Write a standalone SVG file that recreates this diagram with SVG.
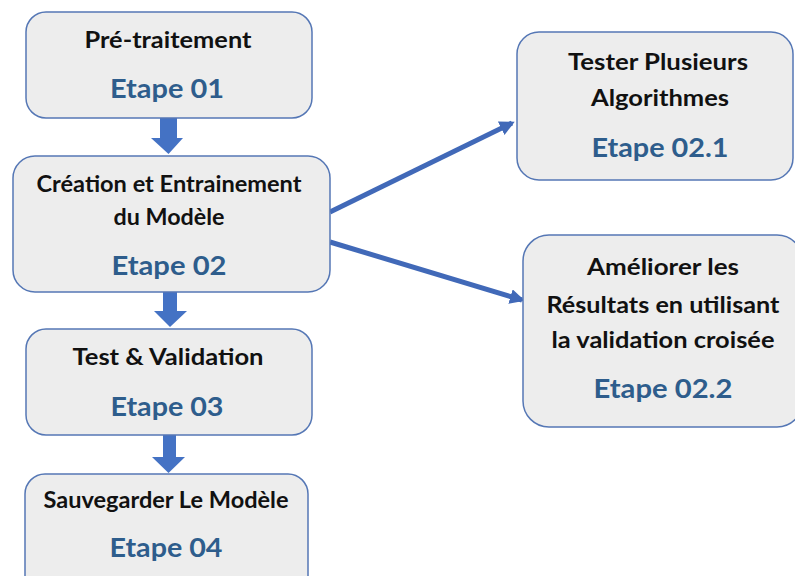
<svg xmlns="http://www.w3.org/2000/svg" width="795" height="576" viewBox="0 0 795 576">
  <style>
    .box { fill: #ededed; stroke: #5577b5; stroke-width: 1.5; }
    .lbl { font-family: Lato, "Open Sans", sans-serif; font-weight: 700; font-size: 23px; fill: #111; text-anchor: middle; }
    .step { font-family: Lato, "Open Sans", sans-serif; font-weight: 700; font-size: 27px; fill: #2e5d8c; text-anchor: middle; }
    .block { fill: #4472c4; }
    .link { stroke: #4169b8; stroke-width: 5; fill: none; }
  </style>
  <defs>
    <marker id="head" viewBox="0 0 10 10" refX="8" refY="5" markerWidth="3" markerHeight="3" orient="auto" markerUnits="strokeWidth">
      <path d="M0,0 L10,5 L0,10 Z" fill="#4169b8"/>
    </marker>
  </defs>
  <rect width="795" height="576" fill="#ffffff"/>

  <!-- block arrows between the main steps, and the two branch links -->
  <g id="connectors">
    <path class="block" d="M160,118 H177 V138 H183 L168.5,154 L151,138 H160 Z"/>
    <path class="block" d="M163,292 H177 V311 H187 L170,327 L154,311 H163 Z"/>
    <path class="block" d="M163,435 H176 V457 H185 L168.5,473 L152,457 H163 Z"/>
    <line class="link" x1="330" y1="212" x2="512" y2="123" marker-end="url(#head)"/>
    <line class="link" x1="330" y1="242" x2="522" y2="300" marker-end="url(#head)"/>
  </g>

  <g id="step01">
    <rect class="box" x="26" y="12" width="286" height="106" rx="20"/>
    <text class="lbl" x="168" y="48" textLength="167" lengthAdjust="spacingAndGlyphs">Pré-traitement</text>
    <text class="step" x="167" y="98" textLength="114" lengthAdjust="spacingAndGlyphs">Etape 01</text>
  </g>

  <g id="step02">
    <rect class="box" x="13" y="156" width="317" height="136" rx="22"/>
    <text class="lbl" x="169" y="192" textLength="265" lengthAdjust="spacingAndGlyphs">Création et Entrainement</text>
    <text class="lbl" x="169" y="225" textLength="111" lengthAdjust="spacingAndGlyphs">du Modèle</text>
    <text class="step" x="169" y="275" textLength="115" lengthAdjust="spacingAndGlyphs">Etape 02</text>
  </g>

  <g id="step03">
    <rect class="box" x="26" y="329" width="286" height="106" rx="20"/>
    <text class="lbl" x="168" y="365" textLength="191" lengthAdjust="spacingAndGlyphs">Test &amp; Validation</text>
    <text class="step" x="167" y="416" textLength="113" lengthAdjust="spacingAndGlyphs">Etape 03</text>
  </g>

  <g id="step04">
    <rect class="box" x="25" y="474" width="283" height="130" rx="20"/>
    <text class="lbl" x="166" y="508" textLength="245" lengthAdjust="spacingAndGlyphs">Sauvegarder Le Modèle</text>
    <text class="step" x="166" y="557" textLength="113" lengthAdjust="spacingAndGlyphs">Etape 04</text>
  </g>

  <g id="step021">
    <rect class="box" x="517" y="32" width="276" height="148" rx="22"/>
    <text class="lbl" x="658" y="70" textLength="180" lengthAdjust="spacingAndGlyphs">Tester Plusieurs</text>
    <text class="lbl" x="660" y="106" textLength="138" lengthAdjust="spacingAndGlyphs">Algorithmes</text>
    <text class="step" x="660" y="157" textLength="137" lengthAdjust="spacingAndGlyphs">Etape 02.1</text>
  </g>

  <g id="step022">
    <rect class="box" x="523" y="235" width="280" height="192" rx="26"/>
    <text class="lbl" x="663" y="275" textLength="152" lengthAdjust="spacingAndGlyphs">Améliorer les</text>
    <text class="lbl" x="663" y="313" textLength="233" lengthAdjust="spacingAndGlyphs">Résultats en utilisant</text>
    <text class="lbl" x="663" y="348" textLength="223" lengthAdjust="spacingAndGlyphs">la validation croisée</text>
    <text class="step" x="663" y="398" textLength="139" lengthAdjust="spacingAndGlyphs">Etape 02.2</text>
  </g>
</svg>
